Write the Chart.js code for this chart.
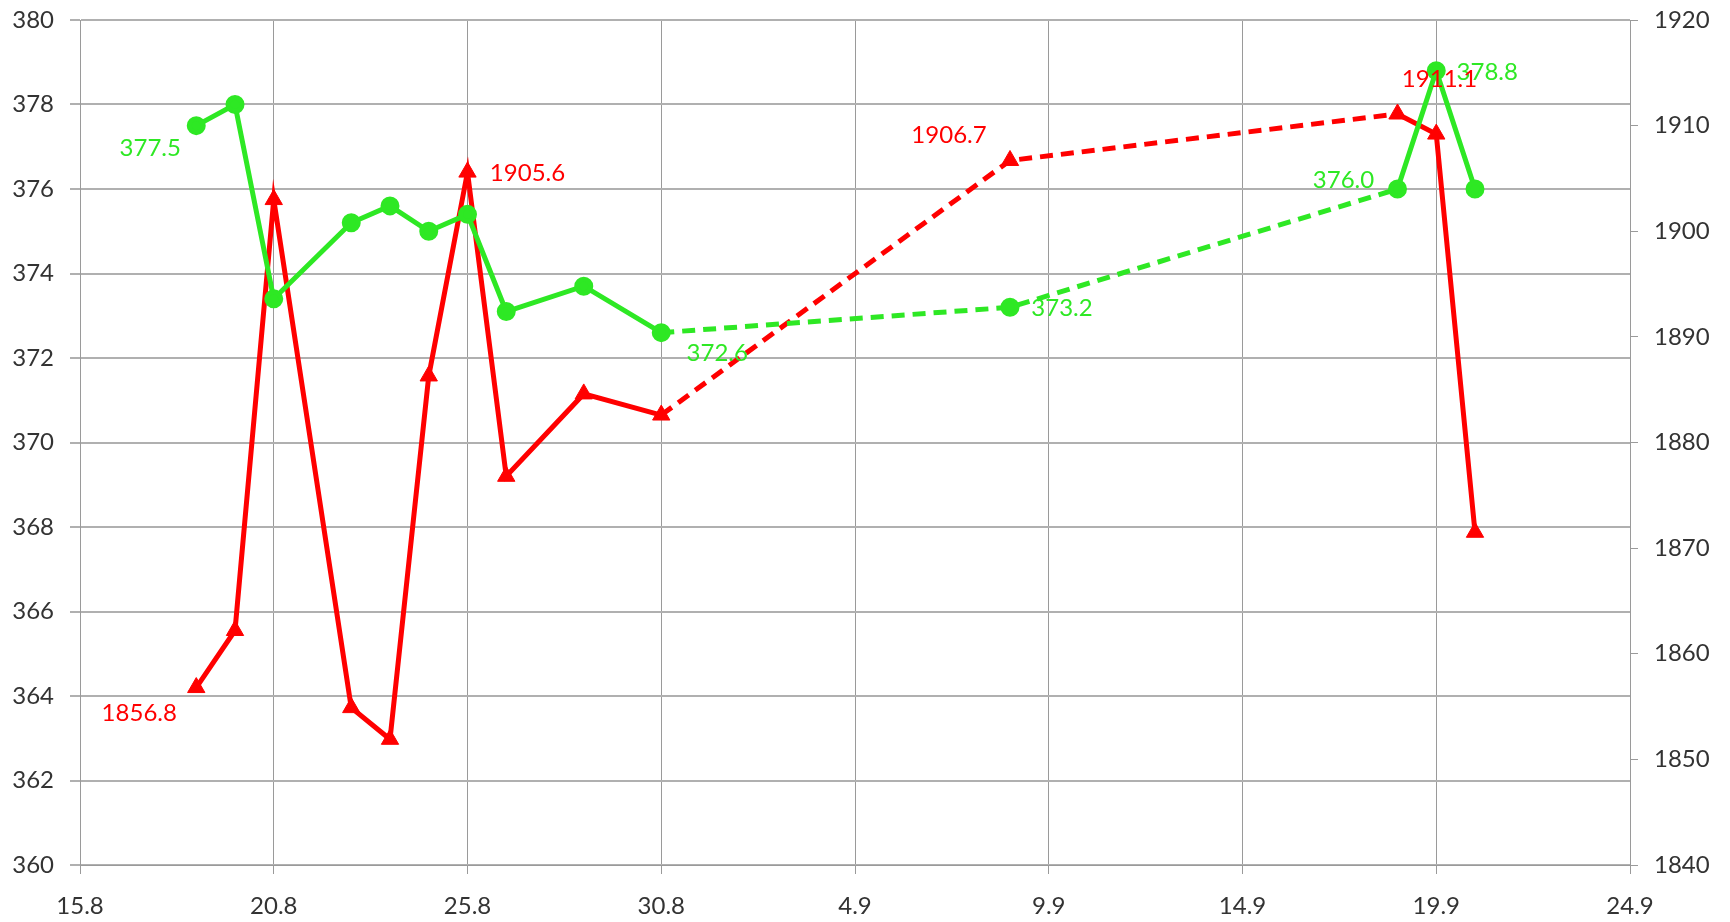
<!DOCTYPE html>
<html>
<head>
<meta charset="utf-8">
<script src="https://cdn.jsdelivr.net/npm/chart.js@4/dist/chart.umd.min.js"></script>
<style>
  body { margin: 0; background: #fff; }
</style>
</head>
<body>
<canvas id="co2Chart" width="1730" height="922"></canvas>
<script>
// dates are day.month, the axis runs from 15.8 to 24.9
const dates = ['18.8', '19.8', '20.8', '22.8', '23.8', '24.8', '25.8', '26.8', '28.8', '30.8', '8.9', '18.9', '19.9', '20.9'];
const greenValues = [377.5, 378.0, 373.4, 375.2, 375.6, 375.0, 375.4, 373.1, 373.7, 372.6, 373.2, 376.0, 378.8, 376.0];
const redValues = [1856.8, 1862.2, 1903.0, 1854.9, 1851.9, 1886.3, 1905.6, 1876.8, 1884.6, 1882.6, 1906.7, 1911.1, 1909.2, 1871.5];
const xStart = '15.8';
const xEnd = '24.9';
const leftTicks = [360, 380, 2];
const rightTicks = [1840, 1920, 10];

// which points carry a value label, and where it sits relative to the point
const greenLabels = { 0: [-46, 23], 9: [56, 21], 10: [52, 1], 11: [-54, -9], 12: [51, 2] };
const redLabels = { 0: [-57, 26], 6: [60, 1], 10: [-61, -25], 11: [42, -35] };

const GREEN = '#2ee824';
const RED = '#ff0000';
const FONT = "Lato, 'Liberation Sans', sans-serif";

function toDate(s) {
    const [d, m] = s.split('.').map(Number);
    return Date.UTC(2000, m - 1, d);
}
const base = toDate(xStart);
const dayOf = s => (toDate(s) - base) / 86400000;
function fmtDay(v) {
    const d = new Date(base + v * 86400000);
    return d.getUTCDate() + '.' + (d.getUTCMonth() + 1);
}

const dashGap = ctx => (ctx.p1.parsed.x - ctx.p0.parsed.x > 3 ? [13, 8] : undefined);

const valueLabels = {
    id: 'valueLabels',
    afterDatasetsDraw(chart) {
        const c = chart.ctx;
        chart.data.datasets.forEach((ds, di) => {
            const meta = chart.getDatasetMeta(di);
            c.save();
            c.font = '24px ' + FONT;
            c.fillStyle = ds.borderColor;
            c.textAlign = 'center';
            c.textBaseline = 'middle';
            Object.keys(ds.valueLabels).forEach(i => {
                const pt = meta.data[i];
                const off = ds.valueLabels[i];
                c.fillText(ds.data[i].y.toFixed(1), pt.x + off[0], pt.y + off[1]);
            });
            c.restore();
        });
    }
};

// fixed box sizes so the plot area sits where it does in the picture
function fixBox(w, h) {
    return s => {
        if (w) s.width = w;
        if (h) s.height = h;
        s.paddingTop = 0;
        s.paddingBottom = 0;
    };
}

const ctx = document.getElementById('co2Chart');

new Chart(ctx, {
    type: 'line',
    data: {
        datasets: [{
            label: 'green',
            data: dates.map((d, i) => ({ x: dayOf(d), y: greenValues[i] })),
            yAxisID: 'y',
            borderColor: GREEN,
            backgroundColor: GREEN,
            borderWidth: 5,
            pointStyle: 'circle',
            pointRadius: 7,
            pointHoverRadius: 7,
            valueLabels: greenLabels,
            segment: { borderDash: dashGap }
        }, {
            label: 'red',
            data: dates.map((d, i) => ({ x: dayOf(d), y: redValues[i] })),
            yAxisID: 'y1',
            borderColor: RED,
            backgroundColor: RED,
            borderWidth: 5,
            pointStyle: 'triangle',
            pointRadius: 10,
            pointHoverRadius: 10,
            pointBorderWidth: 1,
            valueLabels: redLabels,
            segment: { borderDash: dashGap }
        }]
    },
    options: {
        responsive: false,
        animation: false,
        layout: { padding: { top: 20 } },
        plugins: { legend: { display: false }, tooltip: { enabled: false } },
        scales: {
            x: {
                type: 'linear',
                min: dayOf(xStart),
                max: dayOf(xEnd),
                afterFit: fixBox(0, 57),
                grid: { color: '#9a9a9a', lineWidth: 1, tickLength: 9 },
                border: { color: '#9a9a9a' },
                ticks: {
                    stepSize: 5,
                    padding: 18,
                    color: '#333',
                    font: { family: FONT, size: 24 },
                    callback: v => fmtDay(v)
                }
            },
            y: {
                position: 'left',
                min: leftTicks[0],
                max: leftTicks[1],
                afterFit: fixBox(80, 0),
                grid: { color: '#b0b0b0', lineWidth: 2, tickLength: 10 },
                border: { color: '#9a9a9a', width: 1 },
                ticks: {
                    stepSize: leftTicks[2],
                    padding: 16,
                    color: '#333',
                    font: { family: FONT, size: 24 }
                }
            },
            y1: {
                position: 'right',
                min: rightTicks[0],
                max: rightTicks[1],
                afterFit: fixBox(100, 0),
                grid: { drawOnChartArea: false, color: '#9a9a9a', tickLength: 8 },
                border: { color: '#9a9a9a', width: 1 },
                ticks: {
                    stepSize: rightTicks[2],
                    padding: 16,
                    color: '#333',
                    font: { family: FONT, size: 24 },
                    callback: v => String(v)
                }
            }
        }
    },
    plugins: [valueLabels]
});
</script>
</body>
</html>
